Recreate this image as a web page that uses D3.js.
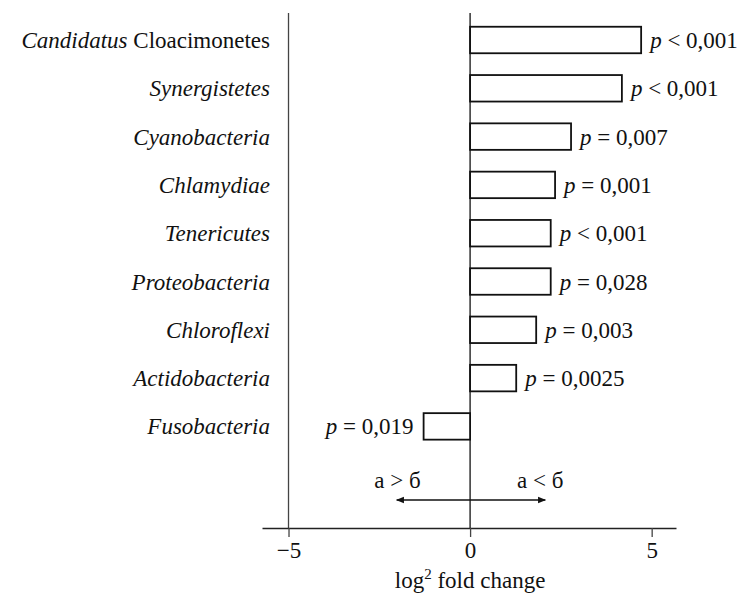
<!DOCTYPE html>
<html>
<head>
<meta charset="utf-8">
<script src="https://cdn.jsdelivr.net/npm/d3@7"></script>
<style>
  body { margin: 0; background: #fff; }
  svg { display: block; }
  svg text { font-family: "Liberation Serif", "DejaVu Serif", "Times New Roman", serif; }
</style>
</head>
<body>
<div id="chart"></div>
<script>
// данные
const taxa = ['Candidatus Cloacimonetes', 'Synergistetes', 'Cyanobacteria', 'Chlamydiae',
  'Tenericutes', 'Proteobacteria', 'Chloroflexi', 'Actidobacteria', 'Fusobacteria'];
const foldChange = [4.71, 4.18, 2.78, 2.34, 2.22, 2.22, 1.82, 1.27, -1.28];
const pSign = ['<', '<', '=', '=', '<', '=', '=', '=', '='];
const pValue = ['0,001', '0,001', '0,007', '0,001', '0,001', '0,028', '0,003', '0,0025', '0,019'];
const xTicks = [-5, 0, 5];

const width = 743, height = 593;

const svg = d3.select('#chart').append('svg')
  .attr('width', width)
  .attr('height', height);

const x = d3.scaleLinear().domain([-5.73, 5.67]).range([262, 676]);
const y = d3.scalePoint().domain(taxa).range([40, 426.4]);
const barH = 26.5;
const axisY = 528;
const lineTop = 13;
const fs = 23;

// вертикальные линии
svg.append('line')
  .attr('x1', x(-5)).attr('x2', x(-5))
  .attr('y1', lineTop).attr('y2', axisY)
  .attr('stroke', '#444').attr('stroke-width', 1.3);

svg.append('line')
  .attr('x1', x(0)).attr('x2', x(0))
  .attr('y1', lineTop).attr('y2', axisY)
  .attr('stroke', '#111').attr('stroke-width', 1.3);

// ось X
const xAxis = svg.append('g')
  .attr('transform', `translate(0,${axisY})`)
  .call(d3.axisBottom(x).tickValues(xTicks).tickSize(9).tickSizeOuter(0).tickPadding(5)
    .tickFormat(d => d < 0 ? '\u2212' + Math.abs(d) : d));
xAxis.attr('font-family', null);
xAxis.select('.domain').attr('stroke', '#222').attr('stroke-width', 1.3);
xAxis.selectAll('.tick line').attr('stroke', '#444').attr('stroke-width', 1.3);
xAxis.selectAll('.tick text')
  .attr('font-size', fs)
  .attr('fill', '#111');

// подпись оси
const title = svg.append('text')
  .attr('x', x(0))
  .attr('y', 588)
  .attr('text-anchor', 'middle')
  .attr('font-size', fs)
  .attr('fill', '#111');
title.append('tspan').text('log');
title.append('tspan').attr('font-size', 15).attr('dy', -9).text('2');
title.append('tspan').attr('dy', 9).text(' fold change');

// столбцы
svg.append('g')
  .selectAll('rect')
  .data(foldChange)
  .enter()
  .append('rect')
  .attr('x', d => x(Math.min(0, d)))
  .attr('width', d => Math.abs(x(d) - x(0)))
  .attr('y', (d, i) => y(taxa[i]) - barH / 2)
  .attr('height', barH)
  .attr('fill', '#fff')
  .attr('stroke', '#111')
  .attr('stroke-width', 1.8);

// названия таксонов
const labels = svg.append('g')
  .selectAll('text')
  .data(taxa)
  .enter()
  .append('text')
  .attr('x', 270)
  .attr('y', d => y(d) + 8)
  .attr('text-anchor', 'end')
  .attr('font-size', fs)
  .attr('fill', '#111');
labels.each(function(d) {
  const t = d3.select(this);
  if (d.startsWith('Candidatus')) {
    t.append('tspan').attr('font-style', 'italic').text('Candidatus');
    t.append('tspan').text(' Cloacimonetes');
  } else {
    t.append('tspan').attr('font-style', 'italic').text(d);
  }
});

// p-значения
const pLabels = svg.append('g')
  .selectAll('text')
  .data(foldChange)
  .enter()
  .append('text')
  .attr('x', d => d >= 0 ? x(d) + 9 : x(d) - 10)
  .attr('y', (d, i) => y(taxa[i]) + 8)
  .attr('text-anchor', d => d >= 0 ? 'start' : 'end')
  .attr('font-size', fs)
  .attr('fill', '#111');
pLabels.each(function(d, i) {
  const t = d3.select(this);
  t.append('tspan').attr('font-style', 'italic').text('p');
  t.append('tspan').text(` ${pSign[i]} ${pValue[i]}`);
});

// стрелка
const defs = svg.append('defs');
defs.append('marker')
  .attr('id', 'arr')
  .attr('viewBox', '0 0 10 10')
  .attr('refX', 9).attr('refY', 5)
  .attr('markerWidth', 16).attr('markerHeight', 8)
  .attr('markerUnits', 'userSpaceOnUse')
  .attr('orient', 'auto-start-reverse')
  .append('path')
  .attr('d', 'M0,1 L10,5 L0,9 Z')
  .attr('fill', '#111');

svg.append('line')
  .attr('x1', x(-2.02)).attr('x2', x(2.07))
  .attr('y1', 500).attr('y2', 500)
  .attr('stroke', '#111').attr('stroke-width', 1.3)
  .attr('marker-start', 'url(#arr)')
  .attr('marker-end', 'url(#arr)');

svg.append('text')
  .attr('x', x(-2)).attr('y', 488)
  .attr('text-anchor', 'middle')
  .attr('font-size', fs).attr('fill', '#111')
  .text('а > б');

svg.append('text')
  .attr('x', x(1.93)).attr('y', 488)
  .attr('text-anchor', 'middle')
  .attr('font-size', fs).attr('fill', '#111')
  .text('а < б');
</script>
</body>
</html>
